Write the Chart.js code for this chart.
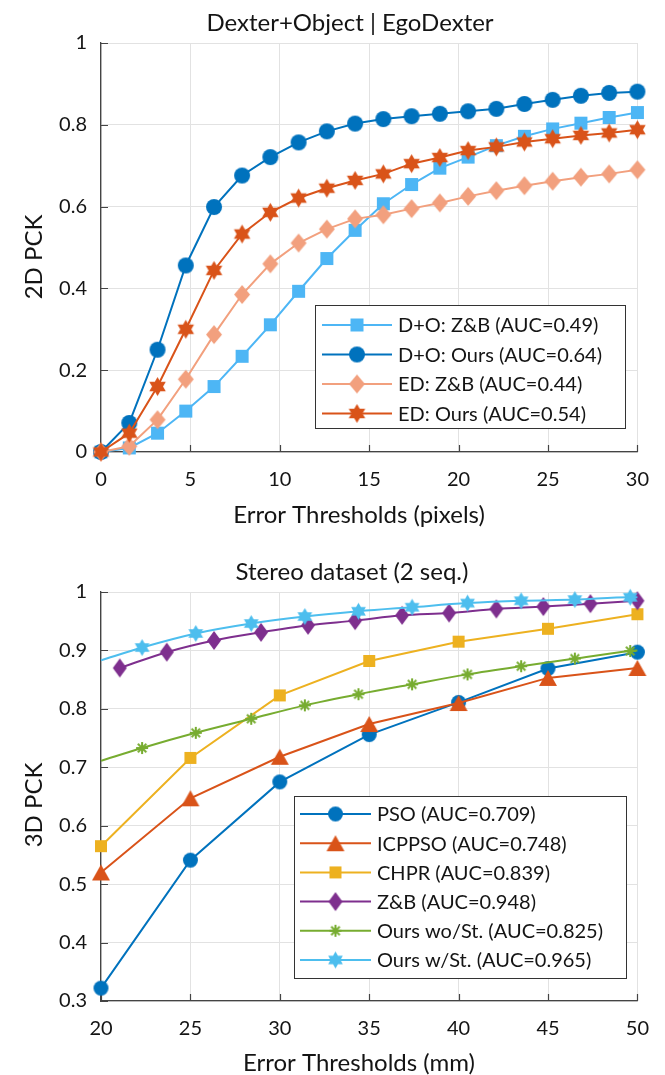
<!DOCTYPE html>
<html>
<head>
<meta charset="utf-8">
<script src="https://cdn.jsdelivr.net/npm/chart.js@4.4.0/dist/chart.umd.min.js"></script>
<style>
  html, body { margin: 0; padding: 0; background: #fff; }
  .box { position: absolute; left: 0; width: 665px; }
</style>
</head>
<body>
<div class="box" style="top:0;height:540px"><canvas id="c1" width="665" height="540"></canvas></div>
<div class="box" style="top:540px;height:535px"><canvas id="c2" width="665" height="535"></canvas></div>
<script>
// --- top chart: Dexter+Object | EgoDexter ---
const topX = [0, 1.58, 3.16, 4.74, 6.32, 7.89, 9.47, 11.05, 12.63, 14.21, 15.79, 17.37, 18.95, 20.53, 22.11, 23.68, 25.26, 26.84, 28.42, 30];
const doZB   = [0, 0.010, 0.046, 0.100, 0.160, 0.234, 0.311, 0.393, 0.473, 0.542, 0.607, 0.654, 0.694, 0.721, 0.749, 0.772, 0.790, 0.804, 0.818, 0.830];
const doOurs = [0, 0.071, 0.250, 0.456, 0.599, 0.676, 0.721, 0.757, 0.784, 0.803, 0.814, 0.821, 0.827, 0.833, 0.839, 0.851, 0.861, 0.871, 0.878, 0.881];
const edZB   = [0, 0.014, 0.079, 0.178, 0.287, 0.385, 0.460, 0.511, 0.545, 0.570, 0.580, 0.595, 0.609, 0.625, 0.639, 0.651, 0.662, 0.672, 0.680, 0.690];
const edOurs = [0, 0.046, 0.160, 0.300, 0.444, 0.533, 0.586, 0.621, 0.645, 0.664, 0.680, 0.705, 0.720, 0.737, 0.746, 0.758, 0.766, 0.774, 0.780, 0.788];
const topLabels = ['D+O: Z&B (AUC=0.49)', 'D+O: Ours (AUC=0.64)', 'ED: Z&B (AUC=0.44)', 'ED: Ours (AUC=0.54)'];
const topXTicks = [0, 5, 10, 15, 20, 25, 30];
const topYTicks = [0, 0.2, 0.4, 0.6, 0.8, 1];

// --- bottom chart: Stereo dataset (2 seq.) ---
const mmX    = [20, 25, 30, 35, 40, 45, 50];
const pso    = [0.322, 0.541, 0.675, 0.756, 0.811, 0.869, 0.897];
const icppso = [0.520, 0.647, 0.718, 0.774, 0.810, 0.853, 0.870];
const chpr   = [0.565, 0.716, 0.823, 0.882, 0.915, 0.937, 0.962];
const zbX    = [21.05, 23.68, 26.32, 28.95, 31.58, 34.21, 36.84, 39.47, 42.11, 44.74, 47.37, 50];
const zb     = [0.870, 0.897, 0.917, 0.931, 0.943, 0.951, 0.960, 0.964, 0.971, 0.975, 0.980, 0.985];
const stX    = [20, 22.3, 25.3, 28.4, 31.4, 34.4, 37.4, 40.5, 43.5, 46.5, 49.6, 50];
const woSt   = [0.711, 0.733, 0.759, 0.783, 0.806, 0.825, 0.842, 0.859, 0.873, 0.886, 0.899, 0.900];
const wSt    = [0.883, 0.905, 0.929, 0.946, 0.958, 0.967, 0.974, 0.981, 0.985, 0.987, 0.991, 0.991];
const botLabels = ['PSO (AUC=0.709)', 'ICPPSO (AUC=0.748)', 'CHPR (AUC=0.839)', 'Z&B (AUC=0.948)', 'Ours wo/St. (AUC=0.825)', 'Ours w/St. (AUC=0.965)'];
const botXTicks = [20, 25, 30, 35, 40, 45, 50];
const botYTicks = [0.3, 0.4, 0.5, 0.6, 0.7, 0.8, 0.9, 1];

const FONT = 'Lato';
const textColor = '#141414';
const axisColor = '#444';
const gridColor = '#e2e2e2';

// marker images (matlab-like filled markers)
function marker(shape, w, h, color) {
  const pad = 2;
  const c = document.createElement('canvas');
  c.width = Math.ceil(w) + pad * 2;
  c.height = Math.ceil(h) + pad * 2;
  const g = c.getContext('2d');
  const cx = c.width / 2, cy = c.height / 2;
  g.fillStyle = color;
  g.strokeStyle = color;
  g.beginPath();
  if (shape === 'circle') {
    g.arc(cx, cy, w / 2, 0, Math.PI * 2);
  } else if (shape === 'square') {
    g.rect(cx - w / 2, cy - h / 2, w, h);
  } else if (shape === 'diamond') {
    g.moveTo(cx, cy - h / 2); g.lineTo(cx + w / 2, cy); g.lineTo(cx, cy + h / 2); g.lineTo(cx - w / 2, cy); g.closePath();
  } else if (shape === 'triangle') {
    g.moveTo(cx, cy - h / 2); g.lineTo(cx + w / 2, cy + h / 2); g.lineTo(cx - w / 2, cy + h / 2); g.closePath();
  } else if (shape === 'hexagram') {
    for (let k = 0; k < 12; k++) {
      const a = -Math.PI / 2 + k * Math.PI / 6;
      const r = k % 2 ? w / 2 * 0.58 : w / 2;
      const px = cx + r * Math.cos(a), py = cy + r * Math.sin(a) * (h / w);
      k ? g.lineTo(px, py) : g.moveTo(px, py);
    }
    g.closePath();
  } else if (shape === 'asterisk') {
    for (let k = 0; k < 4; k++) {
      const a = k * Math.PI / 4;
      g.moveTo(cx - Math.cos(a) * w / 2, cy - Math.sin(a) * h / 2);
      g.lineTo(cx + Math.cos(a) * w / 2, cy + Math.sin(a) * h / 2);
    }
    g.lineWidth = 2;
    g.stroke();
    return c;
  }
  g.fill();
  return c;
}

function pts(xs, ys) {
  return xs.map((x, i) => ({ x: x, y: ys[i] }));
}

// inward tick marks
const inTicks = {
  id: 'inTicks',
  beforeDatasetsDraw(chart) {
    const { ctx, chartArea: a, scales: { x, y } } = chart;
    ctx.save();
    ctx.strokeStyle = axisColor;
    ctx.lineWidth = 1.2;
    ctx.beginPath();
    x.ticks.forEach(t => {
      const px = Math.round(x.getPixelForValue(t.value)) + 0.5;
      ctx.moveTo(px, a.bottom); ctx.lineTo(px, a.bottom - 7);
    });
    y.ticks.forEach(t => {
      const py = Math.round(y.getPixelForValue(t.value)) + 0.5;
      ctx.moveTo(a.left, py); ctx.lineTo(a.left + 7, py);
    });
    ctx.stroke();
    ctx.restore();
  }
};

// titles and axis labels
const labels = {
  id: 'labels',
  afterDraw(chart, args, o) {
    const ctx = chart.ctx;
    ctx.save();
    ctx.fillStyle = textColor;
    ctx.textAlign = 'center';
    ctx.textBaseline = 'middle';
    ctx.font = o.titleSize + 'px ' + FONT;
    ctx.fillText(o.title, o.titlePos[0], o.titlePos[1]);
    ctx.font = o.labelSize + 'px ' + FONT;
    ctx.fillText(o.xTitle, o.xPos[0], o.xPos[1]);
    ctx.translate(o.yPos[0], o.yPos[1]);
    ctx.rotate(-Math.PI / 2);
    ctx.fillText(o.yTitle, 0, 0);
    ctx.restore();
  }
};

// matlab style legend box inside the plot
const legendBox = {
  id: 'legendBox',
  afterDraw(chart, args, o) {
    const ctx = chart.ctx;
    ctx.save();
    ctx.fillStyle = '#fff';
    ctx.fillRect(o.x, o.y, o.w, o.h);
    ctx.strokeStyle = '#333';
    ctx.lineWidth = 1;
    ctx.strokeRect(o.x + 0.5, o.y + 0.5, o.w, o.h);
    ctx.font = o.size + 'px ' + FONT;
    ctx.textAlign = 'left';
    ctx.textBaseline = 'middle';
    chart.data.datasets.forEach((ds, i) => {
      const ry = o.y + o.first + i * o.step;
      ctx.strokeStyle = ds.borderColor;
      ctx.lineWidth = ds.borderWidth;
      ctx.beginPath();
      ctx.moveTo(o.x1, ry); ctx.lineTo(o.x2, ry);
      ctx.stroke();
      const img = ds.legendMarker;
      ctx.drawImage(img, (o.x1 + o.x2) / 2 - img.width / 2, ry - img.height / 2);
      ctx.fillStyle = textColor;
      ctx.fillText(ds.label, o.tx, ry + 1);
    });
    ctx.restore();
  }
};

function series(label, xs, ys, color, img, extra) {
  return Object.assign({
    label: label,
    data: pts(xs, ys),
    borderColor: color,
    backgroundColor: color,
    borderWidth: 2,
    pointStyle: img,
    pointRadius: 5,
    pointHoverRadius: 5,
    legendMarker: img,
    clip: false,
    tension: 0
  }, extra || {});
}

function scales(xmin, xmax, xt, ymin, ymax, yt, xh) {
  const tickFont = { family: FONT, size: 20 };
  return {
    x: {
      type: 'linear', min: xmin, max: xmax,
      afterBuildTicks: s => { s.ticks = xt.map(v => ({ value: v })); },
      afterFit: s => { s.height = xh; },
      grid: { color: gridColor, drawTicks: false },
      border: { color: axisColor, width: 1.3 },
      ticks: { padding: 16, color: textColor, font: tickFont, maxRotation: 0, autoSkip: false, callback: v => String(v) }
    },
    y: {
      type: 'linear', min: ymin, max: ymax,
      afterBuildTicks: s => { s.ticks = yt.map(v => ({ value: v })); },
      afterFit: s => { s.width = 101; },
      grid: { color: gridColor, drawTicks: false },
      border: { color: axisColor, width: 1.3 },
      ticks: { padding: 14, color: textColor, font: tickFont, autoSkip: false, callback: v => String(v) }
    }
  };
}

function draw() {
  const topDs = [
    series(topLabels[0], topX, doZB, '#4DB6F5', marker('square', 13, 13, '#4DB6F5')),
    series(topLabels[1], topX, doOurs, '#0072BD', marker('circle', 16, 16, '#0072BD')),
    series(topLabels[2], topX, edZB, '#F2A07E', marker('diamond', 16, 19, '#F2A07E')),
    series(topLabels[3], topX, edOurs, '#D95319', marker('hexagram', 19, 19, '#D95319'))
  ];
  topDs.forEach((d, i) => { d.order = -i; });

  new Chart(document.getElementById('c1'), {
    type: 'line',
    data: { datasets: topDs },
    options: {
      responsive: false,
      animation: false,
      layout: { padding: { top: 43, right: 17, left: 0, bottom: 0 } },
      scales: scales(0, 30, topXTicks, 0, 1, topYTicks, 88),
      plugins: {
        legend: { display: false },
        tooltip: { enabled: false },
        labels: {
          title: 'Dexter+Object | EgoDexter', titlePos: [350, 23], titleSize: 24,
          xTitle: 'Error Thresholds (pixels)', xPos: [359, 515],
          yTitle: '2D PCK', yPos: [34, 257], labelSize: 24
        },
        legendBox: { x: 315, y: 305, w: 310, h: 123, first: 20, step: 29.5, x1: 322, x2: 392, tx: 398, size: 20 }
      }
    },
    plugins: [inTicks, labels, legendBox]
  });

  const wStImg = marker('hexagram', 17, 17, '#4DBEEE');
  const woStImg = marker('asterisk', 12, 12, '#77AC30');
  const edgeHidden = n => Array.from({ length: n }, (_, i) => (i === 0 || i === n - 1) ? 0 : 5);
  const botDs = [
    series(botLabels[0], mmX, pso, '#0072BD', marker('circle', 15, 15, '#0072BD')),
    series(botLabels[1], mmX, icppso, '#D95319', marker('triangle', 18, 16, '#D95319')),
    series(botLabels[2], mmX, chpr, '#EDB120', marker('square', 12, 12, '#EDB120')),
    series(botLabels[3], zbX, zb, '#7E2F8E', marker('diamond', 14, 19, '#7E2F8E'), { cubicInterpolationMode: 'monotone' }),
    series(botLabels[4], stX, woSt, '#77AC30', woStImg, { pointRadius: edgeHidden(stX.length), cubicInterpolationMode: 'monotone' }),
    series(botLabels[5], stX, wSt, '#4DBEEE', wStImg, { pointRadius: edgeHidden(stX.length), cubicInterpolationMode: 'monotone' })
  ];
  botDs.forEach((d, i) => { d.order = -i; });

  new Chart(document.getElementById('c2'), {
    type: 'line',
    data: { datasets: botDs },
    options: {
      responsive: false,
      animation: false,
      layout: { padding: { top: 52, right: 17, left: 0, bottom: 0 } },
      scales: scales(20, 50, botXTicks, 0.3, 1, botYTicks, 74),
      plugins: {
        legend: { display: false },
        tooltip: { enabled: false },
        labels: {
          title: 'Stereo dataset (2 seq.)', titlePos: [352, 32], titleSize: 24,
          xTitle: 'Error Thresholds (mm)', xPos: [359, 523],
          yTitle: '3D PCK', yPos: [34, 265], labelSize: 24
        },
        legendBox: { x: 294, y: 256, w: 332, h: 182, first: 18, step: 29.2, x1: 300, x2: 371, tx: 377, size: 20 }
      }
    },
    plugins: [inTicks, labels, legendBox]
  });
}

if (document.fonts && document.fonts.load) {
  document.fonts.load('20px ' + FONT).then(draw, draw);
} else {
  draw();
}
</script>
</body>
</html>
